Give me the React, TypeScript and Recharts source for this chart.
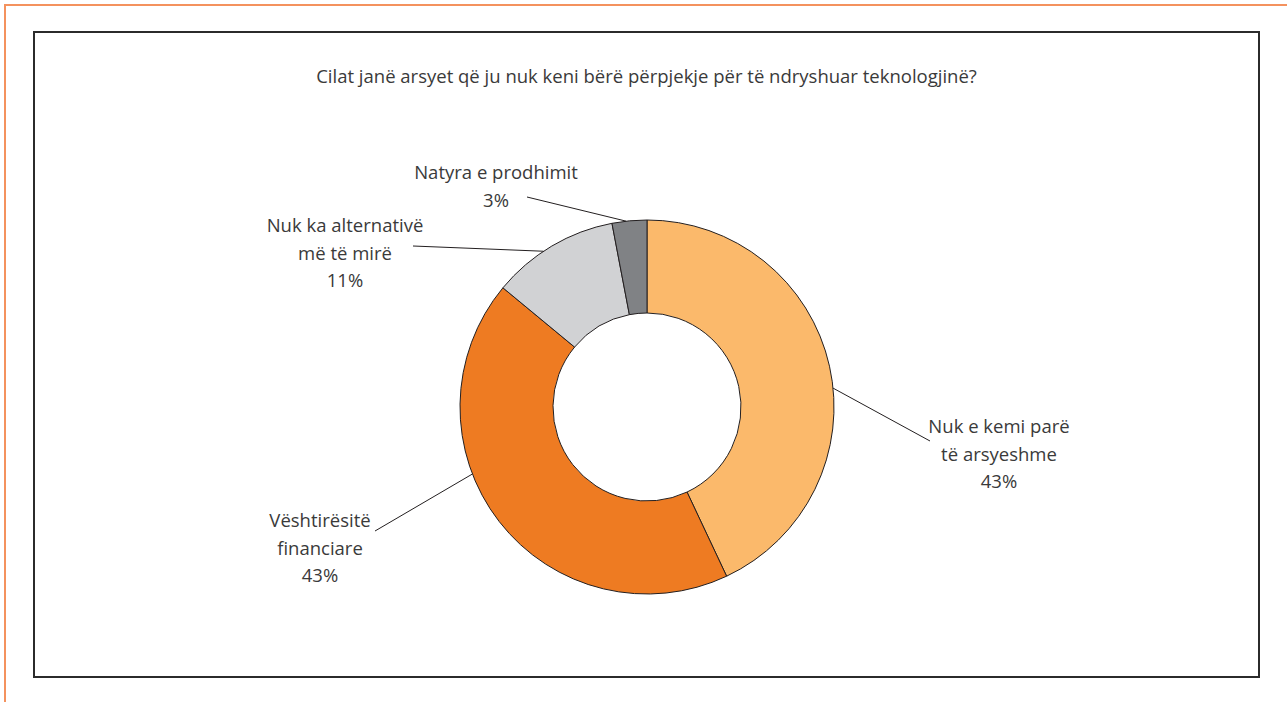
import { PieChart, Pie, Cell } from 'recharts'

const categories = [
  'Nuk e kemi parë të arsyeshme',
  'Vështirësitë financiare',
  'Nuk ka alternativë më të mirë',
  'Natyra e prodhimit'
]
const shares = [43, 43, 11, 3]
const labelRows = [
  ['Nuk e kemi parë', 'të arsyeshme'],
  ['Vështirësitë', 'financiare'],
  ['Nuk ka alternativë', 'më të mirë'],
  ['Natyra e prodhimit']
]
const sliceColors = ['#FBB96B', '#EE7B22', '#D1D2D4', '#808285']

const title = 'Cilat janë arsyet që ju nuk keni bërë përpjekje për të ndryshuar teknologjinë?'

// where each leader line leaves the ring and where its text sits, relative to the centre
const labelLayout = [
  { angleShift: -6.8, end: [283, 34], text: [352, 26] },
  { angleShift: -16.8, end: [-272, 124], text: [-327, 120] },
  { angleShift: 3, end: [-234, -161], text: [-302, -175] },
  { angleShift: 1, end: [-120, -210], text: [-151, -228] }
]

const FONT = '"Open Sans", sans-serif'
const TEXT_COLOR = '#3a3a3a'
const FONT_SIZE = 18.5
const LINE_HEIGHT = 27.5
const RADIAN = Math.PI / 180

const chartData = categories.map((name, i) => ({
  name,
  value: shares[i],
  rows: labelRows[i]
}))

interface LabelProps {
  cx: number
  cy: number
  midAngle: number
  outerRadius: number
  index: number
  value: number
}

function renderLabel({ cx, cy, midAngle, outerRadius, index, value }: LabelProps) {
  const layout = labelLayout[index]
  const a = (midAngle + layout.angleShift) * RADIAN
  const x1 = cx + outerRadius * Math.cos(a)
  const y1 = cy - outerRadius * Math.sin(a)
  const rows = [...chartData[index].rows, `${value}%`]
  return (
    <g key={`lbl-${index}`}>
      <line
        x1={x1}
        y1={y1}
        x2={cx + layout.end[0]}
        y2={cy + layout.end[1]}
        stroke="#231f20"
        strokeWidth={1}
      />
      <text
        x={cx + layout.text[0]}
        y={cy + layout.text[1]}
        textAnchor="middle"
        fill={TEXT_COLOR}
        fontFamily={FONT}
        fontSize={FONT_SIZE}
      >
        {rows.map((r, k) => (
          <tspan key={k} x={cx + layout.text[0]} dy={k === 0 ? 0 : LINE_HEIGHT}>
            {r}
          </tspan>
        ))}
      </text>
    </g>
  )
}

export default function App() {
  return (
    <div
      style={{
        position: 'absolute',
        left: 0,
        top: 0,
        width: 1287,
        height: 702,
        background: '#fff',
        overflow: 'hidden'
      }}
    >
      <div style={{ position: 'absolute', left: 4, top: 4, width: 1283, height: 2, background: '#F4925E' }} />
      <div style={{ position: 'absolute', left: 4, top: 4, width: 2, height: 698, background: '#F4925E' }} />
      <div
        style={{
          position: 'absolute',
          left: 33,
          top: 31,
          width: 1223,
          height: 643,
          border: '2px solid #2b2b2b'
        }}
      >
        <div
          style={{
            position: 'absolute',
            left: 0,
            top: 30,
            width: '100%',
            textAlign: 'center',
            fontFamily: FONT,
            fontSize: FONT_SIZE,
            color: TEXT_COLOR,
            whiteSpace: 'nowrap'
          }}
        >
          {title}
        </div>
        <div style={{ position: 'absolute', left: 0, top: 0 }}>
          <PieChart width={1223} height={643} margin={{ top: 0, right: 0, bottom: 0, left: 0 }}>
            <Pie
              data={chartData}
              dataKey="value"
              nameKey="name"
              cx={612}
              cy={374}
              innerRadius={94}
              outerRadius={187}
              startAngle={90}
              endAngle={-270}
              stroke="#231f20"
              strokeWidth={1}
              label={renderLabel}
              labelLine={false}
              isAnimationActive={false}
            >
              {chartData.map((d, i) => (
                <Cell key={d.name} fill={sliceColors[i]} />
              ))}
            </Pie>
          </PieChart>
        </div>
      </div>
    </div>
  )
}
